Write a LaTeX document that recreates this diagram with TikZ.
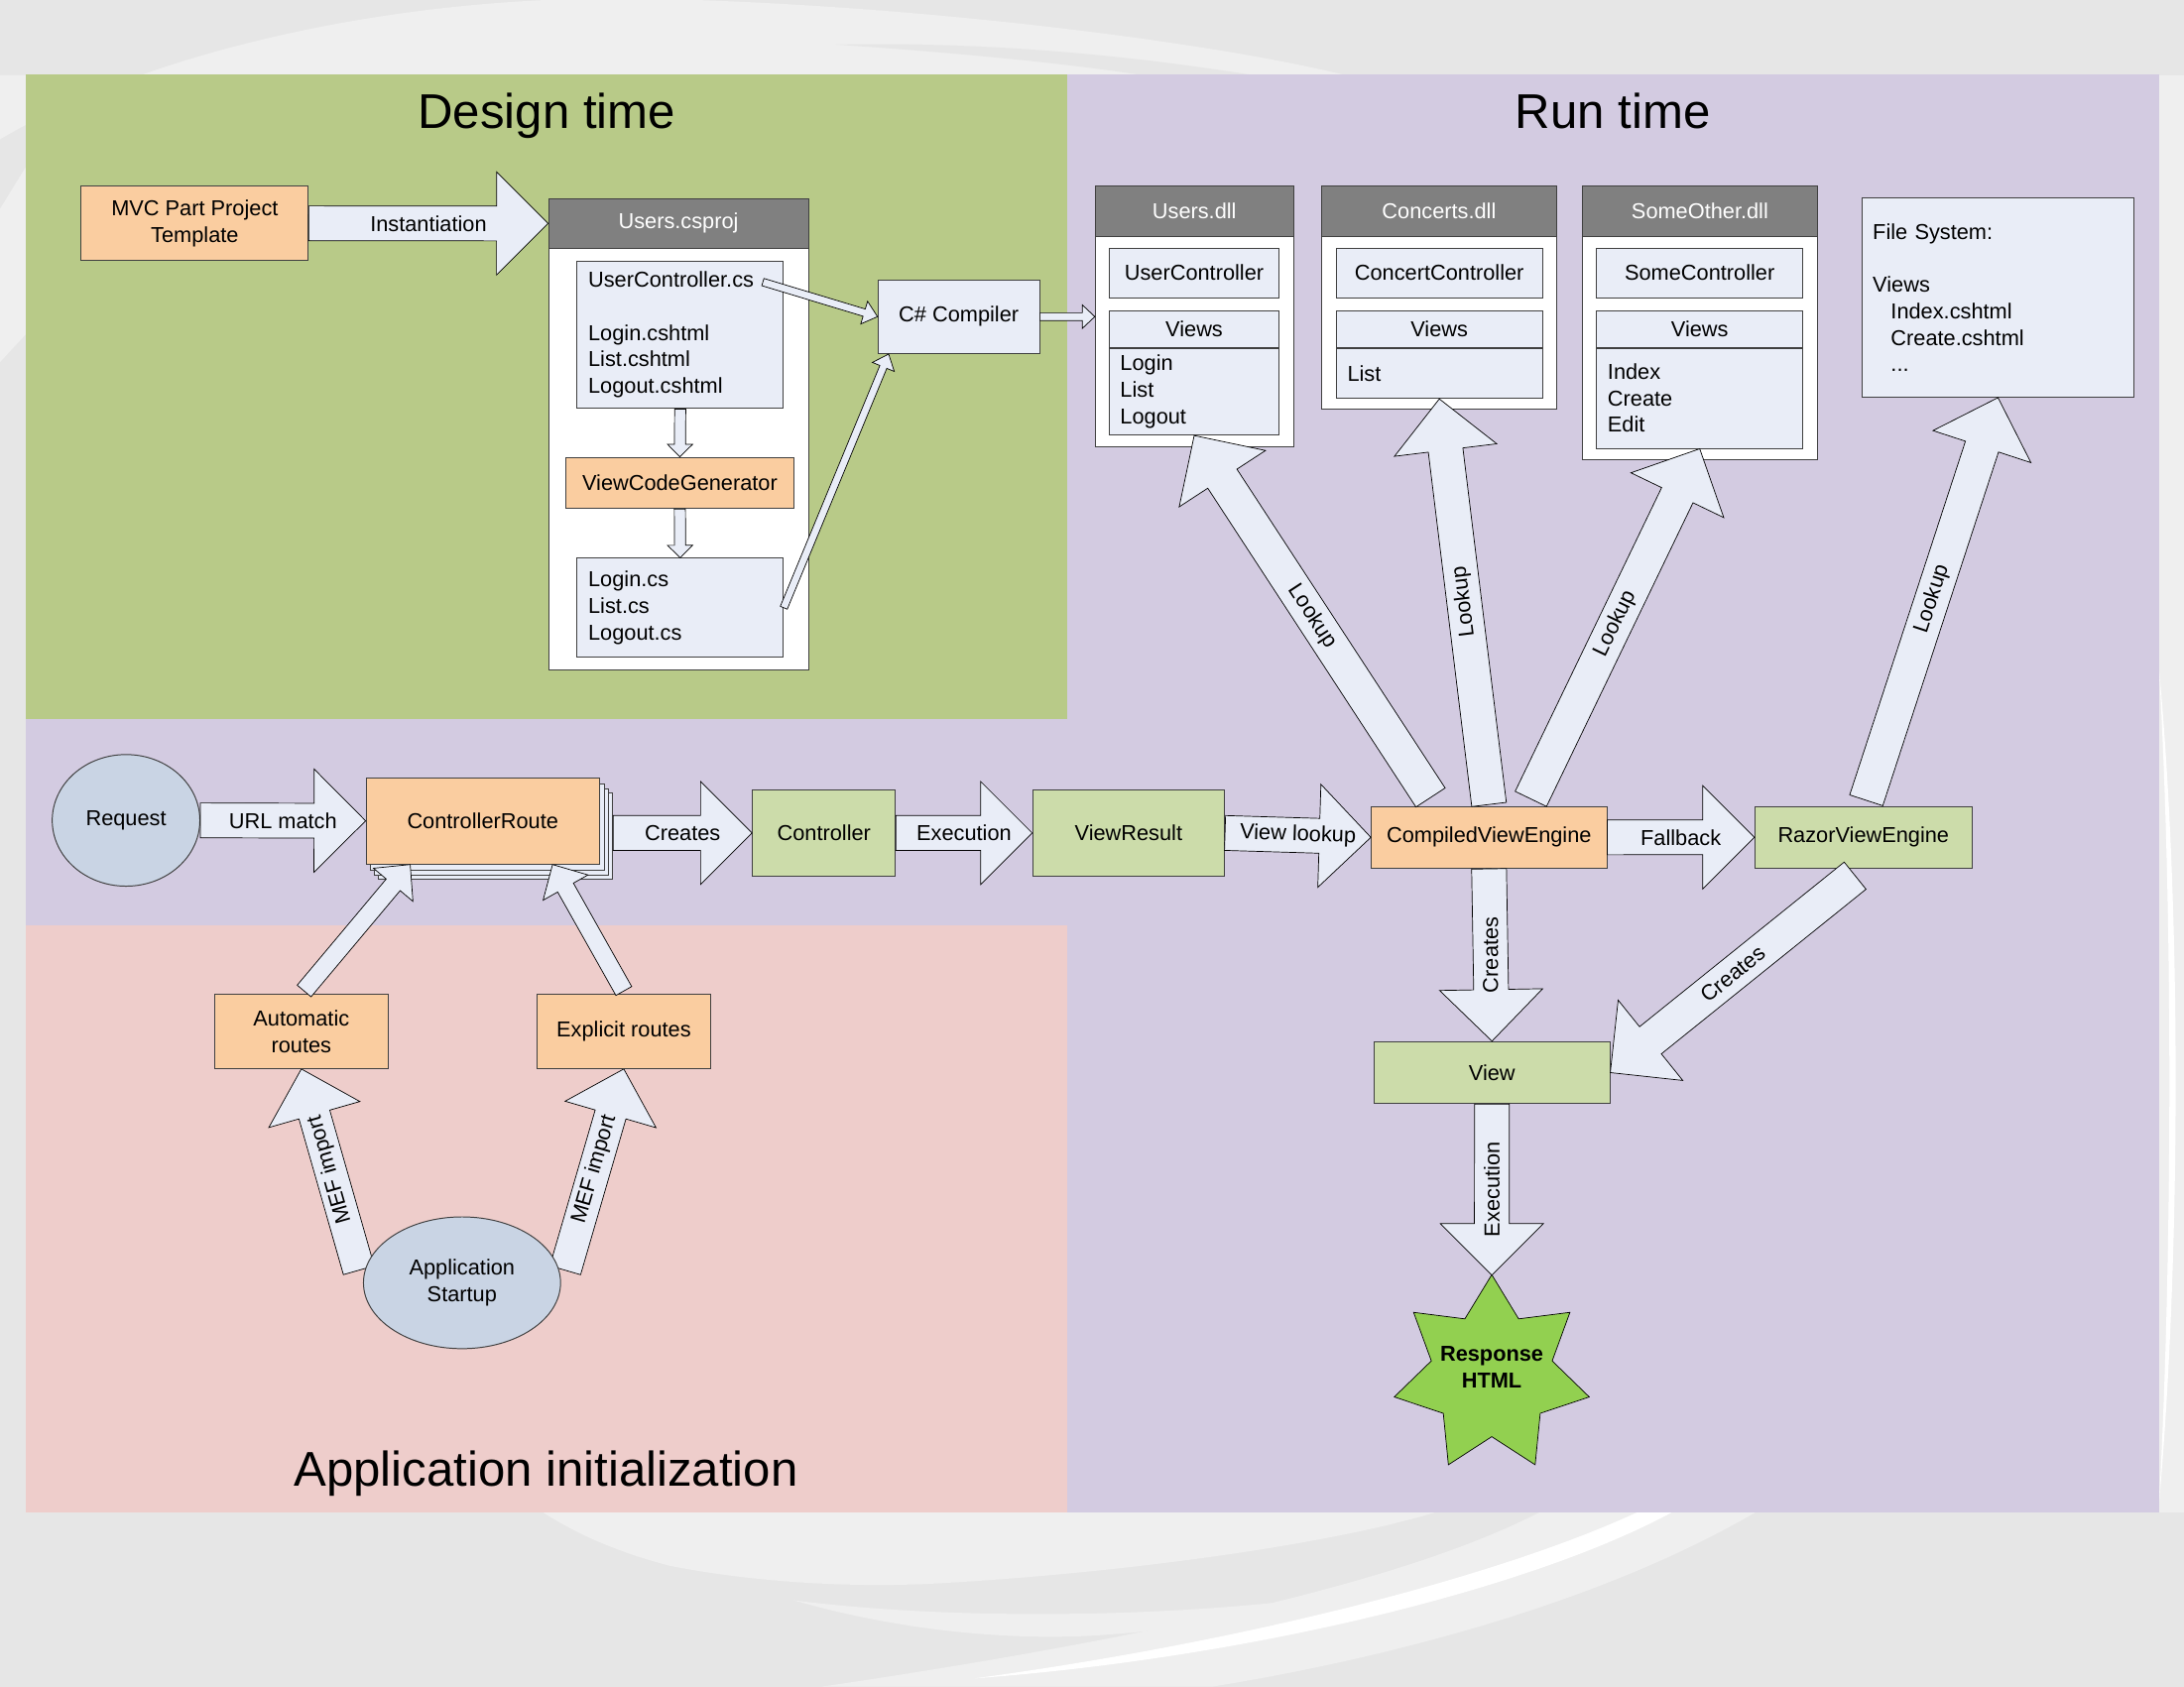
\documentclass[tikz,border=0pt]{standalone}
\usepackage{fontspec}
\setmainfont{Liberation Sans}
\usetikzlibrary{calc,shapes.geometric}

\definecolor{bggray}{RGB}{230,230,230}
\definecolor{swooshgray}{RGB}{239,239,239}
\definecolor{designgreen}{RGB}{184,202,136}
\definecolor{runpurple}{RGB}{211,203,225}
\definecolor{initpink}{RGB}{238,205,203}
\definecolor{peach}{RGB}{250,205,160}
\definecolor{sage}{RGB}{204,220,170}
\definecolor{paleblue}{RGB}{233,237,247}
\definecolor{bubble}{RGB}{201,212,228}
\definecolor{headgray}{RGB}{128,128,128}
\definecolor{starburst}{RGB}{146,208,80}
\definecolor{boxline}{RGB}{64,64,64}

\newcommand{\boxfont}{\fontsize{15.5}{19}\selectfont}

\pgfdeclarelayer{backdrop}
\pgfdeclarelayer{underlay}
\pgfsetlayers{backdrop,underlay,main}

\tikzset{
	box/.style = {draw = boxline, line width = 0.7pt, inner sep = 0pt, align = center, font = \boxfont},
	peachbox/.style = {box, fill = peach, anchor = north west},
	sagebox/.style = {box, fill = sage, anchor = north west},
	palebox/.style = {box, fill = paleblue, anchor = north west},
	listbox/.style = {palebox, align = left, inner xsep = 8pt},
	container/.style = {draw = boxline, line width = 0.7pt, fill = white, inner sep = 0pt, anchor = north west},
	header/.style = {container, fill = headgray, text = white, font = \boxfont},
	bubblenode/.style = {box, ellipse, fill = bubble},
	fatarrow/.style = {draw = black, line width = 0.5pt, fill = paleblue, line join = miter},
	arrowlabel/.style = {font = \boxfont, inner sep = 0pt},
	title/.style = {font = \fontsize{35}{42}\selectfont, anchor = base}
}

% #1 label options, #2 tail, #3 tip, #4 half shaft, #5 half head, #6 head length, #7 label
\newcommand{\blockarrow}[7][sloped]{
	\coordinate (fa-a) at (#2);
	\coordinate (fa-b) at (#3);
	\coordinate (fa-h) at ($(fa-b)!#6pt!(fa-a)$);
	\draw[fatarrow] ($(fa-a)!#4pt!90:(fa-b)$) -- ($(fa-h)!#4pt!90:(fa-b)$) -- ($(fa-h)!#5pt!90:(fa-b)$) -- (fa-b)
		-- ($(fa-h)!#5pt!-90:(fa-b)$) -- ($(fa-h)!#4pt!-90:(fa-b)$) -- ($(fa-a)!#4pt!-90:(fa-b)$) -- cycle;
	\path (fa-a) -- (fa-b) node[arrowlabel, midway, #1] {#7};
}

\begin{document}
\begin{tikzpicture}[x = 1pt, y = -1pt]
	\useasboundingbox (0, 0) rectangle (1568, 1211);
	
	\begin{pgfonlayer}{backdrop}
		\fill[bggray] (0, 0) rectangle (1568, 1211);
		\fill[swooshgray] (0, 100) .. controls (110, 35) and (290, -4) .. (460, -1) .. controls (640, 2) and (860, 28) .. (966, 54) -- (0, 54) -- cycle;
		\fill[bggray] (600, 32) .. controls (690, 38) and (770, 46) .. (820, 54) -- (900, 54) .. controls (800, 38) and (700, 30) .. (600, 32) -- cycle;
		\fill[swooshgray] (0, 150) -- (18.5, 120) -- (18.5, 240) -- (0, 260) -- cycle;
		\fill[swooshgray] (1550, 54) -- (1568, 54) -- (1568, 1086) -- (1550, 1086) -- cycle;
		\fill[white] (1550, 480) .. controls (1566, 650) and (1566, 900) .. (1550, 1080) .. controls (1560, 900) and (1560, 650) .. (1550, 480) -- cycle;
		\fill[swooshgray] (390, 1086) .. controls (420, 1105) and (450, 1116) .. (480, 1124) .. controls (540, 1136) and (610, 1140) .. (670, 1137) .. controls (800, 1130) and (950, 1110) .. (1030, 1086) -- cycle;
		\fill[swooshgray] (570, 1149) .. controls (650, 1172) and (730, 1178) .. (790, 1174) .. controls (900, 1166) and (980, 1146) .. (1030, 1132) .. controls (930, 1158) and (720, 1168) .. (570, 1149) -- cycle;
		\fill[swooshgray] (1105, 1086) -- (1260, 1086) .. controls (1150, 1150) and (1000, 1190) .. (870, 1211) -- (590, 1211) .. controls (800, 1180) and (1000, 1140) .. (1105, 1086) -- cycle;
		\fill[white] (1175, 1086) -- (1200, 1086) .. controls (1100, 1140) and (900, 1190) .. (700, 1205) .. controls (900, 1178) and (1080, 1130) .. (1175, 1086) -- cycle;
		
		\fill[designgreen] (18.5, 53.5) rectangle (766.5, 516);
		\fill[runpurple] (766.5, 53.5) rectangle (1550, 1086);
		\fill[runpurple] (18.5, 516) rectangle (766.5, 664.5);
		\fill[initpink] (18.5, 664.5) rectangle (766.5, 1086);
	\end{pgfonlayer}
	
	\node[title] (designtitle) at (392.5, 92.5) {Design time};
	\node[title] (runtitle) at (1158, 92.5) {Run time};
	\node[title] (inittitle) at (392, 1067) {Application initialization};
	
	% design time
	\node[peachbox, minimum width = 163pt, minimum height = 53pt] (template) at (58, 133.5) {MVC Part Project\\Template};
	\node[container, minimum width = 186.5pt, minimum height = 338pt] (csproj) at (393.5, 142.4) {};
	\node[header, minimum width = 186.5pt, minimum height = 35.4pt] (csprojhead) at (csproj.north west) {Users.csproj};
	\node[listbox, text width = 132pt, minimum height = 106pt] (sources) at (414, 187) {UserController.cs\\[19pt]Login.cshtml\\List.cshtml\\Logout.cshtml};
	\node[peachbox, minimum width = 163.5pt, minimum height = 36.8pt] (generator) at (406, 328) {ViewCodeGenerator};
	\node[listbox, text width = 132pt, minimum height = 71pt] (generated) at (414, 400.5) {Login.cs\\List.cs\\Logout.cs};
	\node[palebox, minimum width = 116pt, minimum height = 53pt] (compiler) at (630, 200.5) {C\# Compiler};
	
	% run time
	\node[container, minimum width = 142.3pt, minimum height = 187pt] (usersdll) at (786, 133.4) {};
	\node[header, minimum width = 142.3pt, minimum height = 35.8pt] (usershead) at (usersdll.north west) {Users.dll};
	\node[palebox, minimum width = 122.2pt, minimum height = 35.8pt] (userctrl) at (795.9, 177.7) {UserController};
	\node[palebox, minimum width = 122.2pt, minimum height = 26.2pt] (usersviews) at (795.9, 222.7) {Views};
	\node[listbox, text width = 106.2pt, minimum height = 62.4pt] (usersbody) at (usersviews.south west) {Login\\List\\Logout};
	
	\node[container, minimum width = 169pt, minimum height = 160.3pt] (concertsdll) at (948.3, 133.4) {};
	\node[header, minimum width = 169pt, minimum height = 35.8pt] (concertshead) at (concertsdll.north west) {Concerts.dll};
	\node[palebox, minimum width = 148pt, minimum height = 35.8pt] (concertctrl) at (959, 177.7) {ConcertController};
	\node[palebox, minimum width = 148pt, minimum height = 26.2pt] (concertsviews) at (959, 222.7) {Views};
	\node[listbox, text width = 132pt, minimum height = 36.1pt] (concertsbody) at (concertsviews.south west) {List};
	
	\node[container, minimum width = 169.2pt, minimum height = 196pt] (someotherdll) at (1135.5, 133.4) {};
	\node[header, minimum width = 169.2pt, minimum height = 35.8pt] (someotherhead) at (someotherdll.north west) {SomeOther.dll};
	\node[palebox, minimum width = 148.1pt, minimum height = 35.8pt] (somectrl) at (1145.9, 177.7) {SomeController};
	\node[palebox, minimum width = 148.1pt, minimum height = 26.2pt] (someotherviews) at (1145.9, 222.7) {Views};
	\node[listbox, text width = 132.1pt, minimum height = 71.9pt] (someotherbody) at (someotherviews.south west) {Index\\Create\\Edit};
	
	\node[listbox, text width = 179.8pt, minimum height = 142.8pt] (filesystem) at (1336.2, 142) {File System:\\[19pt]Views\\\hspace*{13pt}Index.cshtml\\\hspace*{13pt}Create.cshtml\\\hspace*{13pt}...};
	
	\node[bubblenode, minimum width = 106pt, minimum height = 94.5pt] (request) at (90.5, 589) {Request};
	\foreach \dx/\dy [count = \i] in {9/10.6, 6/8.2, 3/4.2} {
		\node[palebox, minimum width = 168pt, minimum height = 62pt] (sheet\i) at (262.5 + \dx, 558 + \dy) {};
	}
	\node[peachbox, minimum width = 167.5pt, minimum height = 62pt] (route) at (262.5, 558) {ControllerRoute};
	\node[sagebox, minimum width = 102.5pt, minimum height = 62pt] (controller) at (540, 566.7) {Controller};
	\node[sagebox, minimum width = 137.8pt, minimum height = 62pt] (viewresult) at (741, 566.7) {ViewResult};
	\node[peachbox, minimum width = 169pt, minimum height = 44.5pt] (compiledve) at (984.2, 578.6) {CompiledViewEngine};
	\node[sagebox, minimum width = 156pt, minimum height = 44.4pt] (razorve) at (1259.5, 578.6) {RazorViewEngine};
	\node[sagebox, minimum width = 169.2pt, minimum height = 44.5pt] (view) at (986.2, 747.5) {View};
	\node[star, star points = 7, star point ratio = 0.62, shape border rotate = 180, minimum size = 89pt, draw = black, line width = 0.5pt, fill = starburst, inner sep = 0pt] (response) at (1071, 987) {};
	\node[font = \boxfont\bfseries, align = center] (responsetext) at ($(response.center) + (0, -5.5)$) {Response\\HTML};
	
	% application initialization
	\node[peachbox, minimum width = 125pt, minimum height = 53.3pt] (autoroutes) at (153.5, 713.5) {Automatic\\routes};
	\node[peachbox, minimum width = 125pt, minimum height = 53.3pt] (explicitroutes) at (385, 713.5) {Explicit routes};
	\node[bubblenode, minimum width = 141.5pt, minimum height = 94.6pt] (startup) at (331.7, 921) {Application\\Startup};
	
	% arrows
	\blockarrow{template.east}{csprojhead.west}{12.5}{37}{37}{Instantiation}
	\blockarrow{$(sources.north east) + (-15, 15.5)$}{compiler.west}{2.7}{8.5}{10}{}
	\blockarrow{generated.east}{$(compiler.south west) + (8, 0)$}{2.7}{8.5}{10}{}
	\blockarrow{sources.south}{generator.north}{4}{9}{9}{}
	\blockarrow{generator.south}{generated.north}{4}{9}{9}{}
	\blockarrow{compiler.east}{compiler.east -| usersdll.west}{2.8}{8.5}{9}{}
	
	\blockarrow{request.east}{route.west}{12.5}{37}{37}{URL match}
	\blockarrow{sheet1.east |- controller.west}{controller.west}{12.5}{37}{37}{Creates}
	\blockarrow{controller.east}{viewresult.west}{12.5}{37}{37}{Execution}
	\blockarrow{viewresult.east}{compiledve.west}{12.5}{37}{37}{View lookup}
	\blockarrow{compiledve.east}{razorve.west}{12.5}{37}{37}{Fallback}
	
	\blockarrow{$(compiledve.north) + (-42, -6)$}{usersbody.south}{12.5}{37}{37}{Lookup}
	\blockarrow[sloped, allow upside down]{$(compiledve.north) + (0, -1)$}{concertsbody.south}{12.5}{37}{37}{Lookup}
	\blockarrow{$(compiledve.north) + (30, -5)$}{someotherbody.south}{12.5}{37}{37}{Lookup}
	\blockarrow{$(razorve.north) + (2, -4)$}{filesystem.south}{12.5}{37}{37}{Lookup}
	
	\blockarrow[rotate = 90]{compiledve.south}{view.north}{12.5}{37}{37}{Creates}
	\blockarrow{$(razorve.south) + (-6, 5)$}{view.east}{12.5}{37}{37}{Creates}
	\blockarrow[rotate = 90]{view.south}{$(response.center) + (0, -71.5)$}{12.5}{37}{37}{Execution}
	
	\blockarrow{$(autoroutes.north) + (2, -2)$}{$(route.south west) + (32, 0)$}{6.5}{18.5}{19}{}
	\blockarrow{$(explicitroutes.north) + (0, -2)$}{$(route.south east) + (-34, 0)$}{6.5}{18.5}{19}{}
	
	\begin{pgfonlayer}{underlay}
		\blockarrow[sloped, allow upside down]{$(startup.west) + (-3, -9)$}{autoroutes.south}{11.5}{34}{34}{MEF import}
		\blockarrow{$(startup.east) + (3, -9)$}{explicitroutes.south}{11.5}{34}{34}{MEF import}
	\end{pgfonlayer}
\end{tikzpicture}
\end{document}
